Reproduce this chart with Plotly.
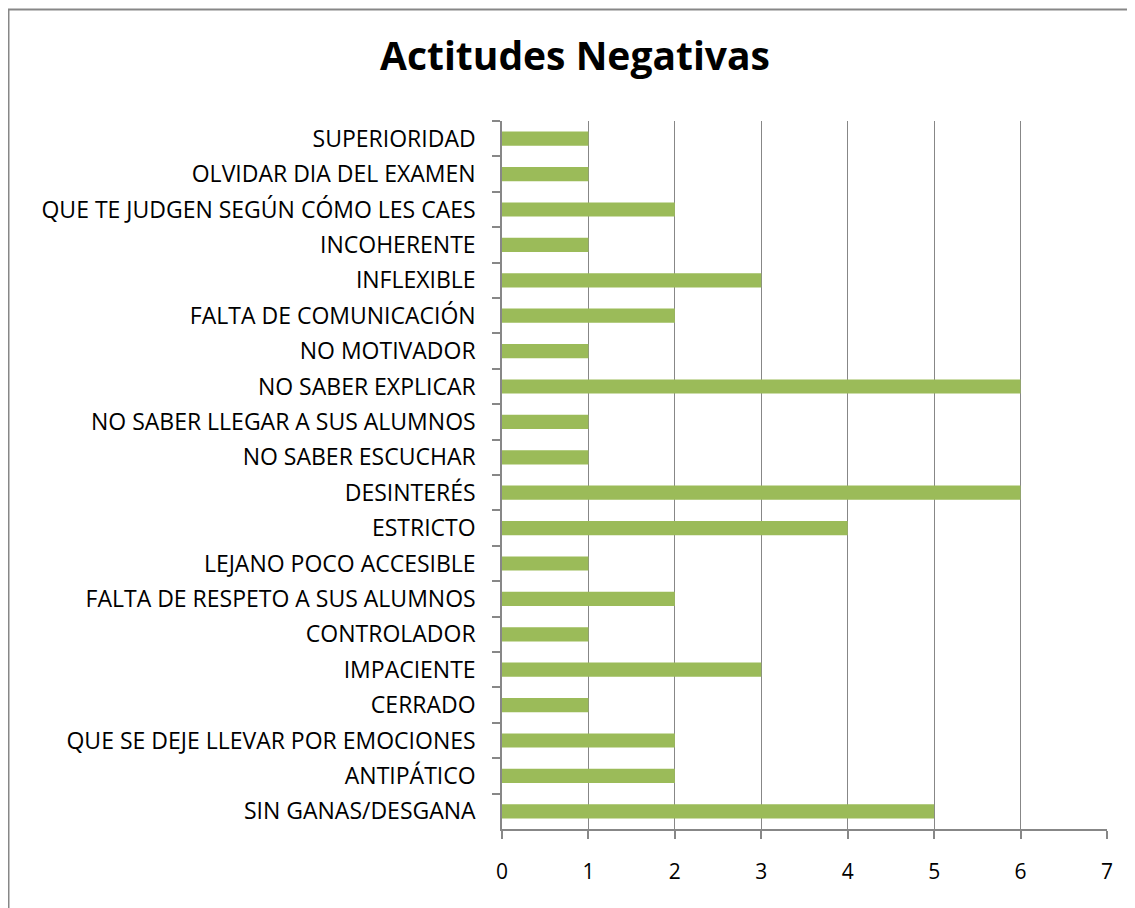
import plotly.graph_objects as go

categories = [
    "SUPERIORIDAD",
    "OLVIDAR DIA DEL EXAMEN",
    "QUE TE JUDGEN SEGÚN CÓMO LES CAES",
    "INCOHERENTE",
    "INFLEXIBLE",
    "FALTA DE COMUNICACIÓN",
    "NO MOTIVADOR",
    "NO SABER EXPLICAR",
    "NO SABER LLEGAR A SUS ALUMNOS",
    "NO SABER ESCUCHAR",
    "DESINTERÉS",
    "ESTRICTO",
    "LEJANO POCO ACCESIBLE",
    "FALTA DE RESPETO A SUS ALUMNOS",
    "CONTROLADOR",
    "IMPACIENTE",
    "CERRADO",
    "QUE SE DEJE LLEVAR POR EMOCIONES",
    "ANTIPÁTICO",
    "SIN GANAS/DESGANA",
]
values = [1, 1, 2, 1, 3, 2, 1, 6, 1, 1, 6, 4, 1, 2, 1, 3, 1, 2, 2, 5]
x_ticks = [0, 1, 2, 3, 4, 5, 6, 7]

FONT = "Open Sans"
GRID = "#878787"

fig = go.Figure(
    go.Bar(
        x=values,
        y=categories,
        orientation="h",
        marker=dict(color="#9BBB59", line=dict(width=0)),
        width=0.4,
    )
)

# page body has an 8px margin, so figure coords = screen coords - 8
W, H = 1127, 900
L, R, T, B = 494, 28, 113, 79
pw, ph = W - L - R, H - T - B

fig.update_layout(
    width=W,
    height=H,
    margin=dict(l=L, r=R, t=T, b=B),
    paper_bgcolor="white",
    plot_bgcolor="white",
    showlegend=False,
    title=dict(
        text="<b>Actitudes Negativas</b>",
        x=567 / W,
        xanchor="center",
        y=1 - 48 / H,
        yanchor="middle",
        font=dict(family=FONT, size=39, color="black"),
    ),
    xaxis=dict(
        range=[0, 7],
        tickvals=x_ticks,
        showgrid=True,
        gridcolor=GRID,
        gridwidth=1,
        showline=True,
        linecolor=GRID,
        linewidth=1.5,
        ticks="outside",
        ticklen=8,
        tickcolor=GRID,
        tickwidth=1.5,
        ticklabelstandoff=15,
        tickfont=dict(family=FONT, size=21, color="black"),
        zeroline=False,
        fixedrange=True,
    ),
    yaxis=dict(
        autorange="reversed",
        showgrid=False,
        showline=True,
        linecolor=GRID,
        linewidth=1.5,
        ticks="outside",
        tickson="boundaries",
        ticklen=8,
        tickcolor=GRID,
        tickwidth=1.5,
        ticklabelstandoff=20,
        tickfont=dict(family=FONT, size=23, color="black"),
        fixedrange=True,
    ),
    shapes=[
        dict(
            type="rect",
            xref="paper",
            yref="paper",
            x0=(0.5 - L) / pw,
            x1=(W + 10 - L) / pw,
            y0=(H - B - (H + 10)) / ph,
            y1=(H - B - 1.5) / ph,
            line=dict(color=GRID, width=2),
            fillcolor="rgba(0,0,0,0)",
            layer="below",
        )
    ],
)

fig.write_html("out.html")
